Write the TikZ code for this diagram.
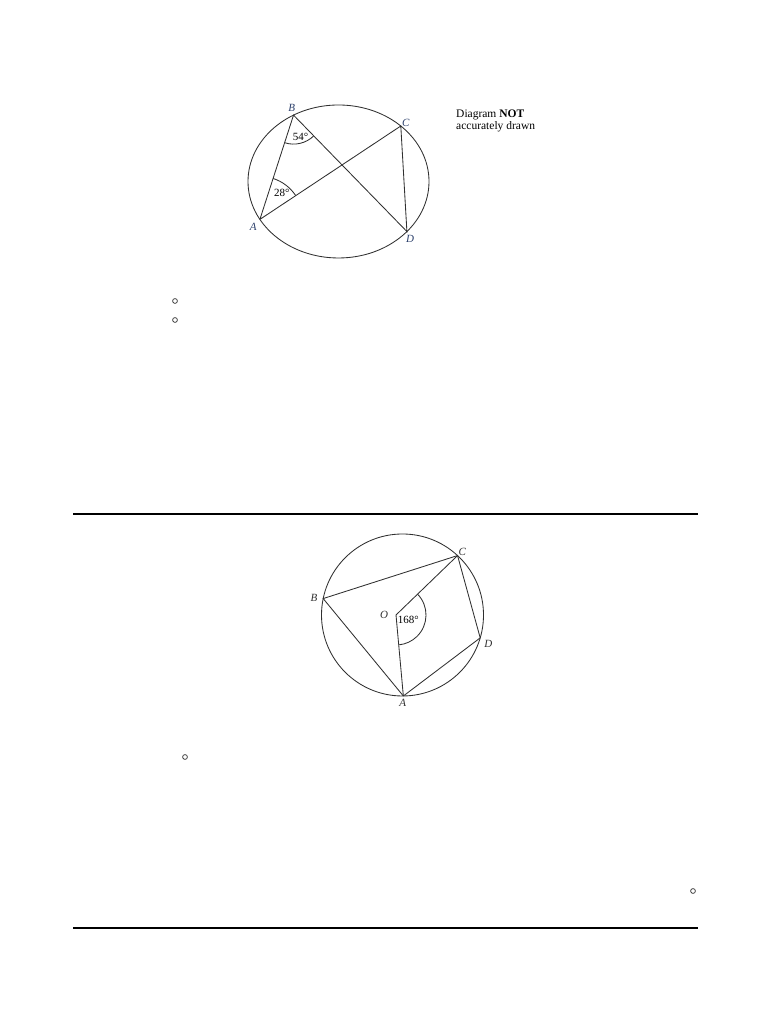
\documentclass[tikz,border=0pt]{standalone}
\usepackage{fontspec}
\setmainfont{Liberation Serif}
\usetikzlibrary{calc}
\definecolor{lbl}{HTML}{2B3F6B}
\definecolor{ink}{HTML}{303030}
\tikzset{
  geo/.style={draw=ink, line width=0.85pt},
  ptlbl/.style={font=\fontsize{11}{12}\selectfont\itshape, inner sep=0pt},
  anglbl/.style={font=\fontsize{11}{12}\selectfont, inner sep=0pt},
  rule/.style={draw=black, line width=1.6pt},
  dot/.style={draw=ink, line width=0.7pt}
}
\begin{document}
\begin{tikzpicture}[x=1pt,y=1pt]
\useasboundingbox (0,0) rectangle (768,1024);
% ---------- top diagram ----------
\coordinate (E) at (338.5,842.5);
\draw[geo] (E) ellipse [x radius=90.5, y radius=76.5];
\coordinate (B) at ($(E)+(119.8:90.5 and 76.5)$);
\coordinate (C) at ($(E)+(46.5:90.5 and 76.5)$);
\coordinate (A) at ($(E)+(209.7:90.5 and 76.5)$);
\coordinate (D) at ($(E)+(-40.9:90.5 and 76.5)$);
\draw[geo] (A) -- (B) -- (D) -- (C) -- (A);
\draw[geo] ($(B)+(-107.9:29)$) arc[start angle=-107.9, end angle=-45.8, radius=29];
\draw[geo] ($(A)+(33.5:43)$) arc[start angle=33.5, end angle=72.1, radius=43];
\node[anglbl] (a54) at (300.5,887.5) {54°};
\node[anglbl] (a28) at (281.7,830.7) {28°};
\node[ptlbl, text=lbl] (lB) at (291.7,915.7) {B};
\node[ptlbl, text=lbl] (lC) at (405.7,900.7) {C};
\node[ptlbl, text=lbl] (lA) at (253.3,797.3) {A};
\node[ptlbl, text=lbl] (lD) at (410,785) {D};
\node[anchor=west, inner sep=0pt, font=\fontsize{11.5}{13}\selectfont] (n1) at (456,909) {Diagram \textbf{NOT}};
\node[anchor=west, inner sep=0pt, font=\fontsize{11.5}{13}\selectfont] (n2) at (456,897) {accurately drawn};
% small circles
\draw[dot] (175,723) circle[radius=2.4];
\draw[dot] (175,704) circle[radius=2.4];
% ---------- rule ----------
\coordinate (r1a) at (73,510);
\coordinate (r1b) at (698,510);
\draw[rule] (r1a) -- (r1b);
% ---------- bottom diagram ----------
\coordinate (K) at (402.5,409);
\draw[geo] (K) circle[radius=81];
\coordinate (C2) at ($(K)+(47.2:81)$);
\coordinate (B2) at ($(K)+(168.3:81)$);
\coordinate (A2) at ($(K)+(-89.4:81)$);
\coordinate (D2) at ($(K)+(-16.4:81)$);
\coordinate (O2) at (396,409);
\draw[geo] (A2) -- (B2) -- (C2) -- (D2) -- (A2);
\draw[geo] (C2) -- (O2) -- (A2);
\draw[geo] ($(O2)+(44:30)$) arc[start angle=44, end angle=-84, radius=30];
\node[anglbl] (a168) at (408.3,404) {168°};
\node[ptlbl, text=ink] (lC2) at (462.3,472.3) {C};
\node[ptlbl, text=ink] (lB2) at (314,425.7) {B};
\node[ptlbl, text=ink] (lO2) at (384,409) {O};
\node[ptlbl, text=ink] (lA2) at (402.7,320.7) {A};
\node[ptlbl, text=ink] (lD2) at (488.3,380) {D};
\draw[dot] (185,267) circle[radius=2.4];
\draw[dot] (693,133) circle[radius=2.4];
% ---------- rule ----------
\coordinate (r2a) at (73,96);
\coordinate (r2b) at (698,96);
\draw[rule] (r2a) -- (r2b);
\end{tikzpicture}
\end{document}
